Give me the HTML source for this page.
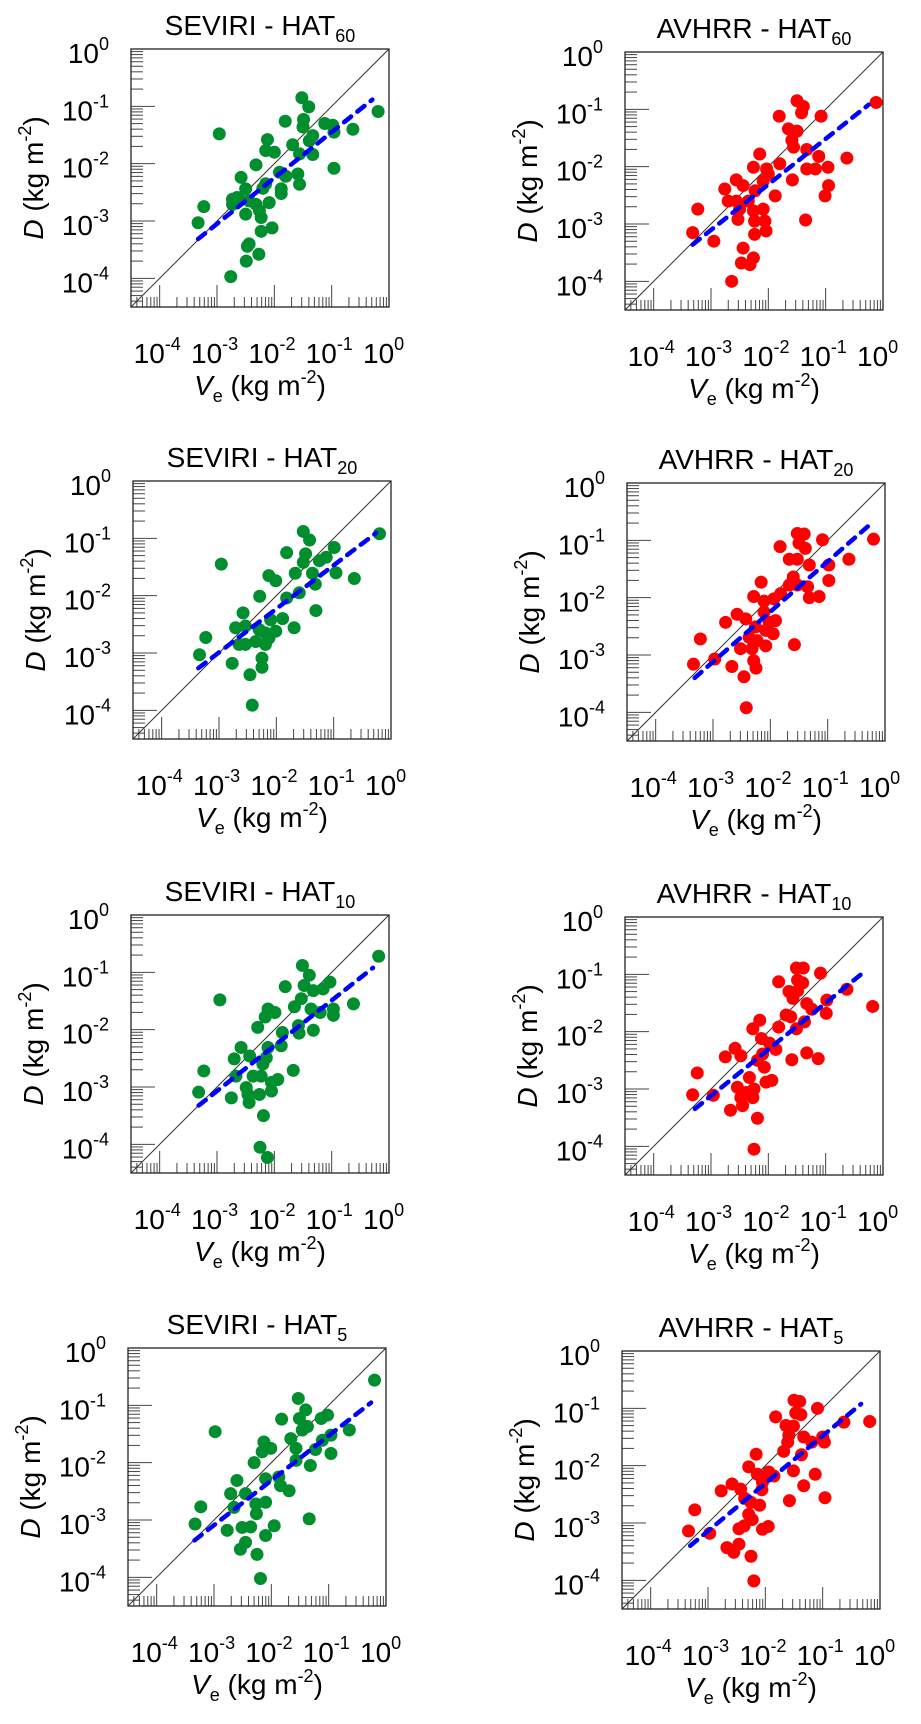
<!DOCTYPE html>
<html>
<head>
<meta charset="utf-8">
<style>
  html,body{margin:0;padding:0;background:#fff;}
  svg{display:block;font-family:"Liberation Sans",Arial,sans-serif;}
</style>
</head>
<body>
<svg id="fig" width="921" height="1724" viewBox="0 0 921 1724" xmlns="http://www.w3.org/2000/svg"></svg>
<script>
// ---- data (log10 values) ----
const panelTitles = ["SEVIRI - HAT","AVHRR - HAT","SEVIRI - HAT","AVHRR - HAT","SEVIRI - HAT","AVHRR - HAT","SEVIRI - HAT","AVHRR - HAT"];
const panelSubs = ["60","60","20","20","10","10","5","5"];
const yTickExps = [0,-1,-2,-3,-4];
const xTickExps = [-4,-3,-2,-1,0];

const p1Ve=[-1.52,-1.40,-0.19,-1.81,-2.96,-1.49,-1.50,-1.12,-0.98,-0.96,-0.63,-1.33,-1.39,-1.68,-1.56,-1.33,-2.12,-2.15,-2.00,-2.32,-0.96,-2.58,-1.91,-1.59,-1.56,-1.80,-2.50,-2.20,-2.15,-1.88,-1.88,-2.73,-2.61,-2.73,-2.44,-2.32,-2.09,-2.50,-2.23,-2.26,-3.23,-3.33,-2.23,-2.04,-2.44,-2.47,-2.27,-2.49,-2.76,-2.65];
const p1D=[-0.85,-1.01,-1.09,-1.26,-1.48,-1.23,-1.36,-1.30,-1.33,-1.45,-1.40,-1.51,-1.60,-1.67,-1.83,-1.84,-1.58,-1.77,-1.80,-2.02,-2.08,-2.24,-2.15,-2.18,-2.36,-2.22,-2.44,-2.43,-2.35,-2.44,-2.52,-2.62,-2.62,-2.71,-2.65,-2.71,-2.68,-2.88,-2.94,-2.82,-2.75,-3.03,-3.18,-3.12,-3.40,-3.44,-3.58,-3.70,-3.97,-2.59];

const p2Ve=[-1.50,-1.39,-1.42,-1.81,-1.08,-1.65,-1.50,-1.59,-1.56,-1.33,-1.12,-0.63,-2.15,-1.33,-1.18,-0.96,-1.80,-2.03,-2.26,-2.00,-1.58,-0.95,-1.01,-1.88,-2.56,-2.44,-2.76,-2.70,-2.56,-2.35,-2.23,-2.09,-2.50,-2.26,-2.09,-2.53,-2.24,-2.06,-1.35,-3.23,-3.32,-2.95,-2.24,-2.04,-2.44,-2.47,-2.26,-2.64,-2.32,-0.12];
const p2D=[-0.85,-0.95,-1.06,-1.12,-1.12,-1.34,-1.38,-1.54,-1.66,-1.70,-1.82,-1.85,-1.78,-2.04,-2.04,-2.01,-1.95,-2.04,-2.01,-2.13,-2.23,-2.33,-2.51,-2.51,-2.23,-2.33,-2.39,-2.60,-2.60,-2.60,-2.42,-2.25,-2.74,-2.77,-2.74,-2.92,-2.95,-2.95,-2.93,-2.74,-3.15,-3.30,-3.18,-3.12,-3.42,-3.68,-3.59,-4.00,-3.71,-0.88];

const p3Ve=[-1.53,-1.42,-0.20,-1.82,-2.96,-1.49,-1.53,-1.25,-1.13,-0.99,-0.96,-0.64,-1.37,-1.67,-1.32,-2.13,-2.01,-2.29,-1.60,-1.82,-1.31,-2.58,-2.10,-1.89,-1.69,-2.71,-2.54,-2.30,-2.19,-2.01,-2.54,-2.36,-2.19,-2.13,-3.23,-3.34,-2.77,-2.25,-2.25,-2.46,-2.42,-2.65];
const p3D=[-0.88,-1.03,-0.92,-1.25,-1.45,-1.27,-1.42,-1.39,-1.33,-1.16,-1.60,-1.70,-1.61,-1.61,-1.80,-1.65,-1.74,-2.01,-1.95,-2.04,-2.26,-2.30,-2.42,-2.40,-2.56,-2.56,-2.53,-2.59,-2.65,-2.62,-2.85,-2.80,-2.85,-2.74,-2.73,-3.03,-3.18,-3.09,-3.25,-3.38,-3.91,-2.85];

const p4Ve=[-1.53,-1.41,-1.83,-1.50,-1.39,-1.09,-0.20,-1.67,-1.53,-1.32,-0.98,-0.63,-0.98,-1.60,-1.67,-1.53,-1.35,-1.32,-1.15,-2.16,-2.29,-2.11,-1.94,-1.82,-2.58,-2.43,-2.78,-2.11,-2.02,-1.91,-2.26,-2.08,-1.95,-2.37,-2.23,-2.08,-2.52,-2.32,-1.58,-3.22,-2.97,-3.34,-2.67,-2.29,-2.25,-2.46,-2.42];
const p4D=[-0.88,-0.89,-1.11,-1.05,-1.14,-0.99,-0.98,-1.33,-1.33,-1.43,-1.43,-1.33,-1.70,-1.64,-1.78,-1.78,-1.81,-2.00,-1.98,-1.73,-1.98,-2.06,-2.02,-1.93,-2.29,-2.37,-2.43,-2.25,-2.43,-2.40,-2.51,-2.57,-2.63,-2.69,-2.75,-2.84,-2.89,-2.89,-2.82,-2.72,-3.07,-3.16,-3.20,-3.10,-3.23,-3.38,-3.92];

const p5Ve=[-0.18,-1.51,-1.39,-1.48,-1.81,-1.32,-1.03,-1.15,-1.53,-1.65,-1.36,-1.20,-0.97,-0.97,-0.62,-2.95,-2.11,-1.99,-2.16,-2.29,-1.58,-1.57,-1.32,-1.86,-1.88,-2.11,-2.58,-2.43,-2.70,-2.14,-2.20,-1.67,-3.23,-2.67,-2.37,-2.23,-1.94,-2.05,-2.49,-2.26,-2.05,-2.46,-3.32,-2.75,-2.44,-2.19,-2.25,-2.12];
const p5D=[-0.72,-0.88,-1.05,-1.23,-1.25,-1.32,-1.17,-1.29,-1.46,-1.60,-1.64,-1.70,-1.64,-1.75,-1.55,-1.48,-1.64,-1.70,-1.78,-1.96,-1.93,-2.06,-2.01,-2.05,-2.28,-2.31,-2.31,-2.46,-2.51,-2.49,-2.60,-2.71,-2.72,-2.81,-2.81,-2.81,-2.87,-2.92,-3.01,-3.13,-3.07,-3.13,-3.09,-3.19,-3.27,-3.50,-4.05,-4.23];

const p6Ve=[-1.51,-1.39,-1.09,-1.82,-1.49,-1.40,-1.64,-1.57,-1.49,-1.33,-1.24,-0.98,-0.99,-0.63,-0.18,-1.69,-1.61,-1.37,-1.51,-1.82,-2.15,-2.27,-2.12,-1.98,-1.87,-2.58,-2.48,-2.75,-2.10,-2.19,-2.07,-1.59,-1.33,-1.13,-3.24,-2.33,-2.54,-2.39,-2.25,-2.04,-1.94,-2.48,-2.27,-3.32,-2.96,-2.66,-2.45,-2.19,-2.25];
const p6D=[-0.89,-0.89,-0.98,-1.13,-1.10,-1.15,-1.30,-1.42,-1.29,-1.51,-1.61,-1.45,-1.68,-1.26,-1.56,-1.71,-1.74,-1.83,-1.95,-1.92,-1.80,-1.95,-2.12,-2.20,-2.31,-2.29,-2.42,-2.44,-2.39,-2.50,-2.62,-2.49,-2.37,-2.47,-2.72,-2.80,-2.97,-3.06,-3.00,-2.88,-2.85,-3.15,-3.15,-3.10,-3.11,-3.37,-3.29,-3.51,-4.05];

const p7Ve=[-0.20,-1.53,-1.40,-1.51,-1.82,-1.13,-1.02,-1.46,-1.37,-1.66,-2.98,-0.64,-0.96,-1.11,-1.23,-0.96,-2.13,-2.01,-2.16,-1.57,-1.57,-1.32,-2.30,-2.60,-1.87,-2.10,-1.84,-1.69,-2.71,-2.45,-2.10,-2.27,-2.65,-2.26,-1.34,-3.23,-3.33,-2.77,-2.51,-2.36,-1.95,-2.10,-2.45,-2.54,-2.25,-2.19];
const p7D=[-0.56,-0.88,-1.08,-1.23,-1.24,-1.23,-1.17,-1.43,-1.37,-1.58,-1.46,-1.43,-1.52,-1.61,-1.77,-1.84,-1.64,-1.75,-1.81,-1.75,-1.96,-2.05,-2.00,-2.31,-2.25,-2.28,-2.40,-2.49,-2.54,-2.54,-2.69,-2.72,-2.78,-2.89,-2.98,-2.77,-3.07,-3.18,-3.13,-3.12,-3.10,-3.27,-3.39,-3.51,-3.60,-4.02];

const p8Ve=[-1.50,-1.40,-1.09,-1.47,-1.38,-1.82,-1.64,-1.51,-1.59,-1.61,-1.33,-1.19,-1.00,-0.97,-0.63,-0.18,-1.68,-1.37,-2.16,-2.29,-1.51,-1.13,-2.14,-1.94,-1.85,-2.05,-2.06,-1.33,-2.58,-2.43,-2.77,-2.36,-2.25,-2.10,-1.58,-0.96,-3.23,-2.29,-2.23,-2.46,-2.37,-2.05,-1.95,-3.34,-2.97,-2.67,-2.55,-2.46,-2.25,-2.20];
const p8D=[-0.86,-0.88,-1.00,-1.08,-1.11,-1.15,-1.30,-1.31,-1.47,-1.59,-1.50,-1.59,-1.50,-1.59,-1.24,-1.23,-1.75,-1.81,-1.80,-2.02,-2.09,-2.15,-2.15,-2.11,-2.18,-2.29,-2.42,-2.35,-2.32,-2.41,-2.44,-2.57,-2.64,-2.69,-2.61,-2.56,-2.77,-2.85,-2.94,-3.10,-3.05,-3.11,-3.06,-3.14,-3.18,-3.43,-3.51,-3.37,-3.58,-4.01];

const fitIntercepts=[-0.65,-0.72,-0.71,-0.495,-0.70,-0.69,-0.75,-0.65];
const fitSlopes=[0.80,0.795,0.76,0.875,0.79,0.81,0.78,0.83];
const fitXStart=[-3.33,-3.32,-3.36,-3.32,-3.32,-3.28,-3.34,-3.31];
const fitXEnd=[-0.29,-0.25,-0.26,-0.20,-0.28,-0.31,-0.26,-0.33];

const veSets=[p1Ve,p2Ve,p3Ve,p4Ve,p5Ve,p6Ve,p7Ve,p8Ve];
const dSets=[p1D,p2D,p3D,p4D,p5D,p6D,p7D,p8D];

// ---- layout ----
const boxLeft=[131,625,133,627,131,625,128,622];
const boxTop=[49,52,481,483,915,917,1348,1351];
const SIZE=258, LO=-4.5, HI=0;
const colors=["#008e2e","#ff0000"];
const NS="http://www.w3.org/2000/svg";
const svg=document.getElementById('fig');

function mk(tag,attrs,parent){
  const e=document.createElementNS(NS,tag);
  for(const k in attrs) e.setAttribute(k,attrs[k]);
  (parent||svg).appendChild(e);
  return e;
}
function tsp(parent,txt,attrs){
  const t=document.createElementNS(NS,'tspan');
  for(const k in (attrs||{})) t.setAttribute(k,attrs[k]);
  t.textContent=txt; parent.appendChild(t); return t;
}

for(let p=0;p<8;p++){
  const L=boxLeft[p], T=boxTop[p];
  const sx=v=>L+(v-LO)/(HI-LO)*SIZE;
  const sy=v=>T+SIZE-(v-LO)/(HI-LO)*SIZE;
  const col=colors[p%2];
  const g=mk('g',{});
  
  

  const title=mk('text',{x:L+SIZE/2,y:T-14,'text-anchor':'middle','font-size':28,fill:'#000'},g);
  
  
  tsp(title,panelTitles[p]);
  tsp(title,panelSubs[p],{'font-size':18,dy:7});

  const tk=mk('g',{stroke:'#444','stroke-width':1},g);
  
  
  for(let d=-5;d<=0;d++){
    for(let k=1;k<=9;k++){
      const v=d+Math.log10(k);
      if(v<LO-1e-9||v>HI+1e-9) continue;
      const major=(k===1);
      const yy=sy(v), xx=sx(v);
      mk('line',{x1:L,x2:L+(major?24:12),y1:yy,y2:yy},tk);
      mk('line',{x1:xx,x2:xx,y1:T+SIZE,y2:T+SIZE-(major?22:10)},tk);
    }
  }

  const fr=mk('rect',{x:L,y:T,width:SIZE,height:SIZE,fill:'none',stroke:'#222','stroke-width':1.3},g);
  
  

  const one=mk('line',{x1:sx(LO),y1:sy(LO),x2:sx(HI),y2:sy(HI),stroke:'#333','stroke-width':1},g);
  
  

  const pts=mk('g',{fill:col},g);
  
  
  const ve=veSets[p], dd=dSets[p];
  const n=Math.min(ve.length,dd.length);
  for(let i=0;i<n;i++){
    const c=mk('circle',{cx:sx(ve[i]),cy:sy(dd[i]),r:6.5},pts);
    
    
  }

  const x0=fitXStart[p], x1=fitXEnd[p];
  const fit=mk('line',{x1:sx(x0),y1:sy(fitIntercepts[p]+fitSlopes[p]*x0),x2:sx(x1),y2:sy(fitIntercepts[p]+fitSlopes[p]*x1),
    stroke:'#0000ff','stroke-width':4.5,'stroke-dasharray':'9 8','stroke-linecap':'round'},g);
  
  

  yTickExps.forEach(e=>{
    const t=mk('text',{x:L-22,y:sy(e)+14,'text-anchor':'end','font-size':28,fill:'#000'},g);
    
    
    tsp(t,'10'); tsp(t,String(e),{'font-size':18,dy:-13});
  });
  xTickExps.forEach(e=>{
    const t=mk('text',{x:sx(e)-26,y:T+SIZE+56,'text-anchor':'start','font-size':28,fill:'#000'},g);
    
    
    tsp(t,'10'); tsp(t,String(e),{'font-size':18,dy:-13});
  });

  const xt=mk('text',{x:L+SIZE/2,y:T+SIZE+88,'text-anchor':'middle','font-size':28,fill:'#000'},g);
  
  
  tsp(xt,'V',{'font-style':'italic'});
  tsp(xt,'e',{'font-size':18,dy:7});
  tsp(xt,' (kg m',{dy:-7});
  tsp(xt,'-2',{'font-size':18,dy:-12});
  tsp(xt,')',{dy:12});

  const yx=L-88;
  const yt=mk('text',{x:0,y:0,'text-anchor':'middle','font-size':28,fill:'#000',
    transform:'translate('+yx+','+(T+SIZE/2)+') rotate(-90)'},g);
  
  
  tsp(yt,'D',{'font-style':'italic'});
  tsp(yt,' (kg m');
  tsp(yt,'-2',{'font-size':18,dy:-12});
  tsp(yt,')',{dy:12});
}
</script>
</body>
</html>
